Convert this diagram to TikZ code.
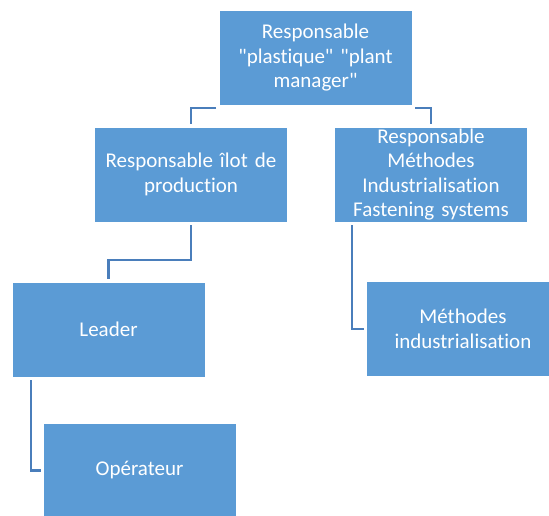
\documentclass[tikz,border=0pt]{standalone}
\usepackage{fontspec}
\newfontfamily\rolefont{Carlito}[Ligatures=NoCommon]
\definecolor{boxblue}{HTML}{5B9BD5}
\definecolor{linkblue}{HTML}{4A7EBB}
\usetikzlibrary{positioning}
\tikzstyle{base}=[x=1pt, y=-1pt, inner sep=0pt, outer sep=0pt]
\tikzstyle{role}=[draw=white, line width=0.8pt, fill=boxblue, text=white, minimum width=193pt, minimum height=95pt, text width=190pt, align=center, font=\rolefont\fontsize{21}{24.5}\selectfont]
\tikzstyle{link}=[draw=linkblue, line width=2.5pt]
\begin{document}
\begin{tikzpicture}[base]
    \useasboundingbox (0,0) rectangle (549,516);
    \clip (0,0) rectangle (549,516);
        \node [role] (top) at (315.5,58) {Responsable\\"plastique" "plant\\manager"};
        \node [role] (ilot) at (191,174.5) {Responsable îlot de\\production};
        \node [role] (methres) at (431,174.5) {Responsable\\Méthodes\\Industrialisation\\Fastening systems};
        \node [role] (leader) at (108.5,329.5) {Leader};
        \node [role] (meth) at (463,329) {Méthodes\\industrialisation};
        \node [role] (oper) at (139.5,470.5) {Opérateur};
        % liens
        \draw [link] ([xshift=-3pt,yshift=-2.5pt]top.south west) -| ([yshift=3pt]ilot.north);
        \draw [link] ([xshift=3pt,yshift=-2.5pt]top.south east) -| ([yshift=3pt]methres.north);
        \draw [link] ([yshift=-3pt]ilot.south) -- ([yshift=-38pt]ilot.south) -| ([yshift=3pt]leader.north);
        \draw [link] ([xshift=-79pt,yshift=-3pt]methres.south) |- ([xshift=-3pt]meth.west);
        \draw [link] ([xshift=-77.5pt,yshift=-3pt]leader.south) |- ([xshift=-2pt]oper.west);
    \end{tikzpicture}
\end{document}
